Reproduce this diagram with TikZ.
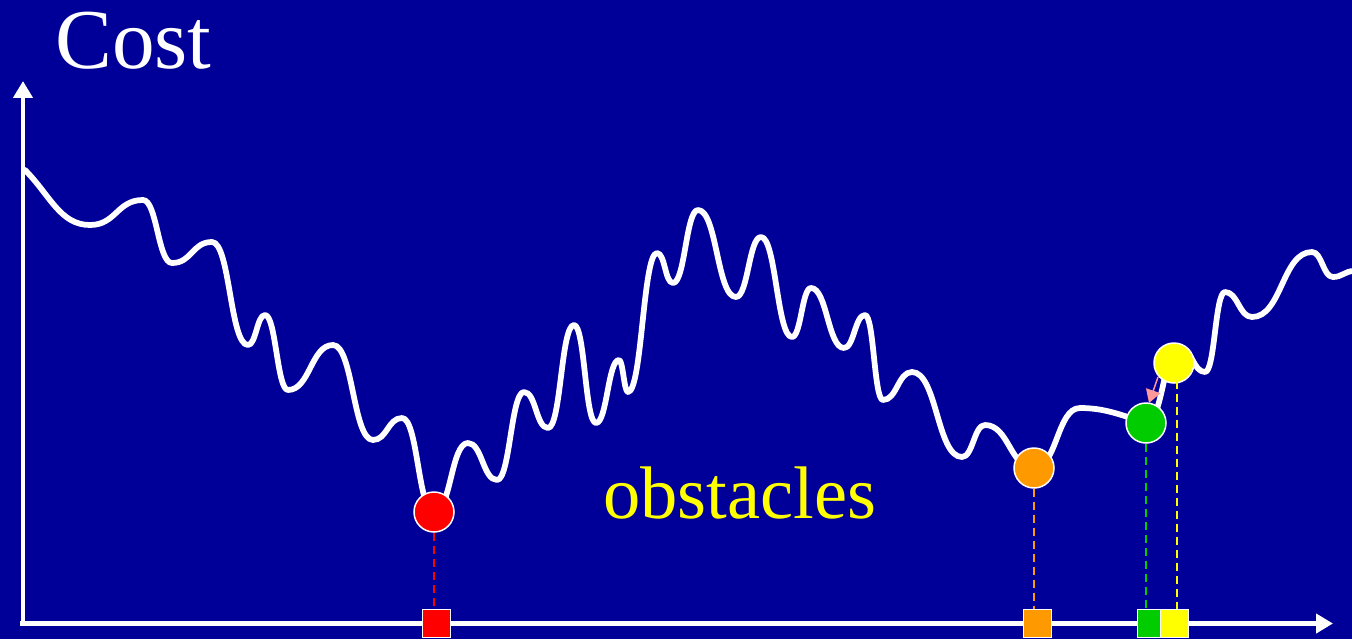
\documentclass[tikz,border=0pt]{standalone}
\usepackage{fontspec}
\setmainfont{Liberation Serif}
\usetikzlibrary{arrows.meta}
\definecolor{bgblue}{RGB}{0,0,153}
\definecolor{cred}{RGB}{255,0,0}
\definecolor{corange}{RGB}{255,153,0}
\definecolor{cgreen}{RGB}{0,204,0}
\definecolor{cyellow}{RGB}{255,255,0}
\definecolor{cpink}{RGB}{255,153,153}
\tikzset{
  ball/.style={circle, draw=white, line width=0.03cm, minimum size=0.8cm, inner sep=0pt},
  marker/.style={rectangle, draw=white, line width=0.02cm, minimum size=0.56cm, inner sep=0pt},
  drop/.style={dash pattern=on 0.16cm off 0.1cm, line width=0.04cm},
  axis/.style={white, line width=0.1cm, -{Triangle[length=0.34cm,width=0.38cm]}},
  costcurve/.style={white, line width=0.115cm, line join=round, line cap=round}
}
\begin{document}
\begin{tikzpicture}[x=0.02cm, y=-0.02cm]
\fill[bgblue] (0,0) rectangle (1352,639);
\useasboundingbox (0,0) rectangle (1352,639);
% cost curve
\draw[costcurve] (25,170)
 .. controls +(25,25) and +(-30,0) .. (90,225)
 .. controls +(26,0) and +(-26,0) .. (143,200)
 .. controls +(14,0) and +(-14,0) .. (172,263)
 .. controls +(20,0) and +(-20,0) .. (212,242)
 .. controls +(18,0) and +(-18,0) .. (248,345)
 .. controls +(8,0) and +(-8,0) .. (265,315)
 .. controls +(11,0) and +(-11,0) .. (288,390)
 .. controls +(22,0) and +(-22,0) .. (333,345)
 .. controls +(20,0) and +(-20,0) .. (373,440)
 .. controls +(14,0) and +(-14,0) .. (402,418)
 .. controls +(16,0) and +(-16,0) .. (434,512)
 .. controls +(17,0) and +(-17,0) .. (468,443)
 .. controls +(14,0) and +(-14,0) .. (497,480)
 .. controls +(13,0) and +(-13,0) .. (524,392)
 .. controls +(12,0) and +(-12,0) .. (548,428)
 .. controls +(13,0) and +(-13,0) .. (574,325)
 .. controls +(11,0) and +(-11,0) .. (596,423)
 .. controls +(11,0) and +(-11,0) .. (619,360)
 .. controls +(4,0) and +(-4,0) .. (628,392)
 .. controls +(14,0) and +(-14,0) .. (657,253)
 .. controls +(8,0) and +(-8,0) .. (673,283)
 .. controls +(12,0) and +(-12,0) .. (698,210)
 .. controls +(19,0) and +(-19,0) .. (736,297)
 .. controls +(12,0) and +(-12,0) .. (761,237)
 .. controls +(15,0) and +(-15,0) .. (792,337)
 .. controls +(9,0) and +(-9,0) .. (811,288)
 .. controls +(16,0) and +(-16,0) .. (844,348)
 .. controls +(10,0) and +(-10,0) .. (865,315)
 .. controls +(9,0) and +(-9,0) .. (883,400)
 .. controls +(14,0) and +(-14,0) .. (912,372)
 .. controls +(25,0) and +(-25,0) .. (962,457)
 .. controls +(11,0) and +(-11,0) .. (985,425)
 .. controls +(24,0) and +(-24,0) .. (1034,468)
 .. controls +(23,0) and +(-23,0) .. (1080,408)
 .. controls +(25,0) and +(-25,-8) .. (1146,423)
 .. controls +(17,0) and +(-17,0) .. (1180,348)
 .. controls +(12,0) and +(-12,0) .. (1205,372)
 .. controls +(10,0) and +(-10,0) .. (1225,292)
 .. controls +(13,0) and +(-13,0) .. (1252,317)
 .. controls +(30,0) and +(-30,0) .. (1312,252)
 .. controls +(10,0) and +(-10,0) .. (1333,277)
 .. controls +(9,0) and +(-9,0) .. (1354,271);
% axes
\coordinate (origin) at (23,626);
\coordinate (ytop) at (23,81);
\coordinate (xorigin) at (20,623.5);
\coordinate (xend) at (1333,623.5);
\draw[axis] (origin) -- (ytop);
\draw[axis] (xorigin) -- (xend);
% markers on the axis
\node[marker, fill=cred] (rs) at (436,623) {};
\node[marker, fill=corange] (os) at (1037,623) {};
\node[marker, fill=cgreen] (gs) at (1151,623) {};
\node[marker, fill=cyellow] (ys) at (1174,623) {};
% balls on the curve
\node[ball, fill=cred] (rc) at (434,512) {};
\node[ball, fill=corange] (oc) at (1034,468) {};
\node[ball, fill=cgreen] (gc) at (1146,423) {};
\node[ball, fill=cyellow] (yc) at (1174,363) {};
% dashed drops
\draw[drop, cred] (rc.south) -- (rc.south |- rs.north);
\draw[drop, corange] (oc.south) -- (oc.south |- os.north);
\draw[drop, cgreen] (gc.south) -- (gc.south |- gs.north);
\coordinate (ydtop) at (1177,381);
\draw[drop, cyellow] (ydtop) -- (ydtop |- ys.north);
% move arrow
\coordinate (astart) at (1158,377);
\coordinate (aend) at (1149,403);
\draw[cpink, line width=0.03cm, -{Triangle[length=0.26cm,width=0.3cm]}] (astart) -- (aend);
% texts
\node[anchor=base west, inner sep=0pt, text=white, font=\fontsize{48.5}{50}\selectfont] (cost) at (55,68) {Cost};
\node[anchor=base west, inner sep=0pt, text=cyellow, font=\fontsize{42.4}{44}\selectfont] (obst) at (603,518) {obstacles};
\end{tikzpicture}
\end{document}
